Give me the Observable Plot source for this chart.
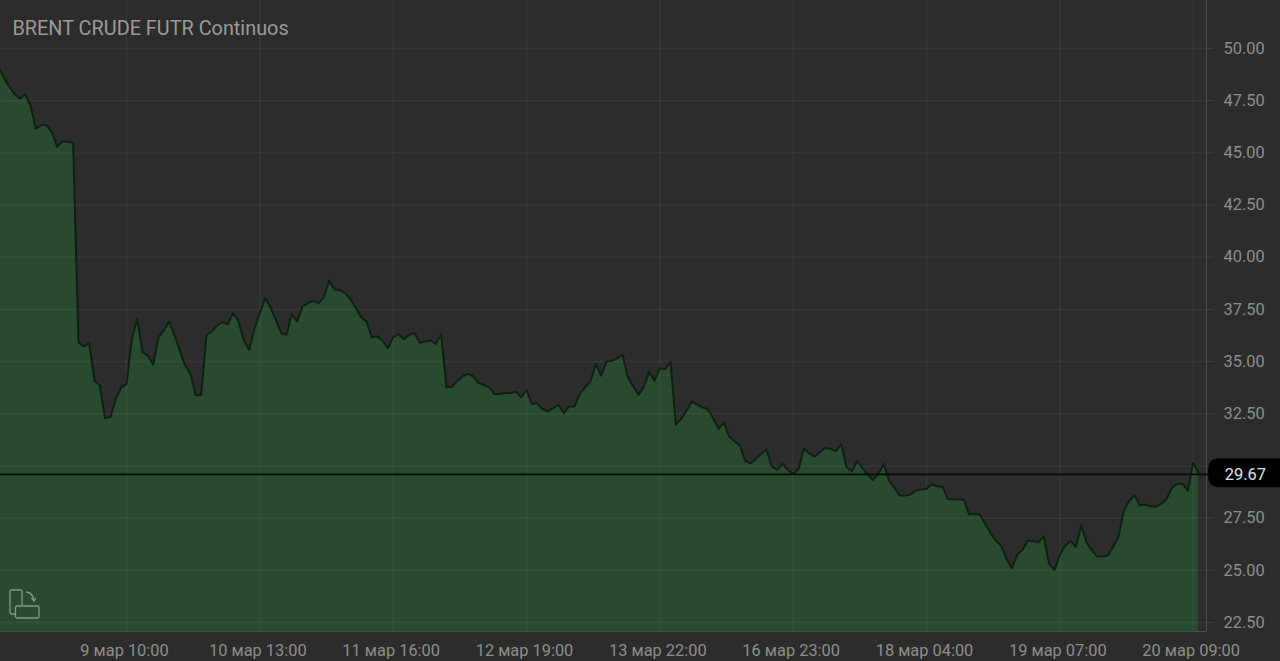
<!DOCTYPE html>
<html>
<head>
<meta charset="utf-8">
<script src="https://cdn.jsdelivr.net/npm/d3@7"></script>
<script src="https://cdn.jsdelivr.net/npm/@observablehq/plot@0.6"></script>
<style>
html,body{margin:0;padding:0;background:#2c2c2c;overflow:hidden}
#wrap{position:relative;width:1280px;height:661px}
#wrap svg.plot{display:block}
#icon{position:absolute;left:-1px;top:571px;width:60px;height:60px}
</style>
</head>
<body>
<div id="wrap"></div>
<script>
const title = "BRENT CRUDE FUTR Continuos";
const prices = [
49.11,48.63,48.18,47.83,47.59,47.83,47.27,46.15,46.33,46.33,45.99,45.30,45.56,45.53,45.48,
35.93,35.72,35.89,34.09,33.85,32.28,32.36,33.21,33.77,33.93,36.09,37.04,35.45,35.29,34.86,
36.17,36.49,36.93,36.25,35.53,34.81,34.41,33.40,33.39,36.28,36.44,36.73,36.89,36.80,37.33,
36.93,36.01,35.57,36.59,37.33,38.05,37.60,37.01,36.36,36.29,37.28,36.93,37.64,37.79,37.92,
37.79,38.08,38.88,38.45,38.42,38.29,38.00,37.57,37.12,36.93,36.17,36.21,36.01,35.64,36.17,
36.32,36.07,36.29,36.37,35.90,35.96,36.01,35.85,36.33,33.77,33.80,34.06,34.30,34.41,34.30,
33.98,33.88,33.77,33.45,33.45,33.50,33.50,33.56,33.29,33.65,32.97,33.00,32.73,32.62,32.77,
32.93,32.53,32.85,32.85,33.45,33.77,34.06,34.89,34.33,35.00,35.05,35.16,35.34,34.25,33.82,
33.42,33.80,34.52,34.09,34.68,34.65,35.00,31.98,32.25,32.65,33.09,32.94,32.81,32.72,32.30,
31.78,32.10,31.41,31.18,30.98,30.26,30.13,30.34,30.58,30.79,29.97,29.81,30.10,29.81,29.62,
29.86,30.82,30.61,30.45,30.66,30.86,30.82,30.71,31.06,29.94,29.75,30.23,29.91,29.59,29.33,
29.65,30.10,29.30,28.95,28.58,28.58,28.63,28.82,28.88,28.90,29.12,29.03,29.01,28.42,28.39,
28.39,28.39,27.67,27.70,27.67,27.22,26.79,26.42,26.18,25.55,25.11,25.75,25.99,26.42,26.39,
26.35,26.62,25.31,25.02,25.75,26.18,26.42,26.11,27.18,26.35,25.98,25.66,25.66,25.71,26.14,
26.62,27.86,28.31,28.61,28.12,28.15,28.07,28.05,28.18,28.42,28.95,29.14,29.14,28.82,30.15,29.67
];
const bars = prices.map((_, i) => i);
const tickBars = [24, 49, 74, 99, 124, 149, 174, 199, 224];
const tickLabels = ["9 мар 10:00","10 мар 13:00","11 мар 16:00","12 мар 19:00","13 мар 22:00","16 мар 23:00","18 мар 04:00","19 мар 07:00","20 мар 09:00"];
const yGrid = [22.5,25,27.5,30,32.5,35,37.5,40,42.5,45,47.5,50];
const yLabelled = [22.5,25,27.5,32.5,35,37.5,40,42.5,45,47.5,50];
const lastLevel = 29.6;
const lastLabel = "29.67";
const xDomain = [0.375, 226.5];
const yDomain = [22.07, 52.3];

const font = "Roboto, sans-serif";
const gridColor = "rgba(255,255,255,0.05)";
const chart = Plot.plot({
  width: 1280, height: 661,
  marginLeft: 0, marginRight: 74, marginTop: 0, marginBottom: 30,
  style: {background: "#2c2c2c", fontFamily: font, fontSize: "16px", color: "#8e8e8e"},
  x: {type: "linear", domain: xDomain, range: [0, 1206]},
  y: {type: "linear", domain: yDomain, range: [631, 0]},
  marks: [
    Plot.areaY(bars, {x: i => i, y1: yDomain[0], y2: i => prices[i], fill: "#284a2e", clip: true}),
    Plot.gridX(tickBars, {stroke: gridColor, strokeOpacity: 1, strokeWidth: 1.5}),
    Plot.gridY(yGrid, {stroke: gridColor, strokeOpacity: 1, strokeWidth: 1.5}),
    Plot.ruleX([xDomain[1]], {stroke: "#4b4b4b", strokeWidth: 1.2}),
    Plot.ruleY([yDomain[0]], {stroke: "#464f47", strokeWidth: 1.2}),
    Plot.lineY(bars, {x: i => i, y: i => prices[i], stroke: "#0d2012", strokeWidth: 2, clip: true}),
    Plot.axisY(yLabelled, {anchor: "right", tickSize: 7, tickPadding: 10, label: null, stroke: "#3f3f3f",
      fill: "#8e8e8e", fontSize: 16.4, tickFormat: d3.format(".2f")}),
    Plot.axisX(tickBars, {anchor: "bottom", tickSize: 0, tickPadding: 13, dx: -2, label: null,
      fill: "#8e8e8e", fontSize: 16.4, tickFormat: d => tickLabels[tickBars.indexOf(d)]}),
    Plot.ruleY([lastLevel], {x1: xDomain[0], x2: 227, stroke: "#060906", strokeWidth: 1.8}),
    Plot.rect([lastLabel], {x1: 226.9, x2: 244, y1: 28.96, y2: 30.35, fill: "#000", rx: 10}),
    Plot.text([lastLabel], {x: 233.8, y: lastLevel, text: d => d, fill: "#e2e2e2", fontSize: 16.4, textAnchor: "middle"}),
    Plot.text([title], {frameAnchor: "top-left", dx: 12, dy: 20, text: d => d, fill: "#9b9b9b", fontSize: 19.85, textAnchor: "start", lineAnchor: "top"})
  ]
});
document.getElementById("wrap").appendChild(chart);
document.getElementById("wrap").insertAdjacentHTML("beforeend",
  `<svg id="icon" viewBox="0 0 60 60" fill="none" stroke="#7e9c84" stroke-width="1.3">
    <path d="M11 41 V21 Q11 19 13 19 H21 Q23 19 23 21 V34"/>
    <path d="M11 41 Q11 43 13 43 H16"/>
    <rect x="16.5" y="35" width="23.5" height="12" rx="1.5"/>
    <path d="M27 21 Q33 21 35 29"/><path d="M32.5 27 L35 30 L37 27"/>
  </svg>`);
</script>
</body>
</html>
